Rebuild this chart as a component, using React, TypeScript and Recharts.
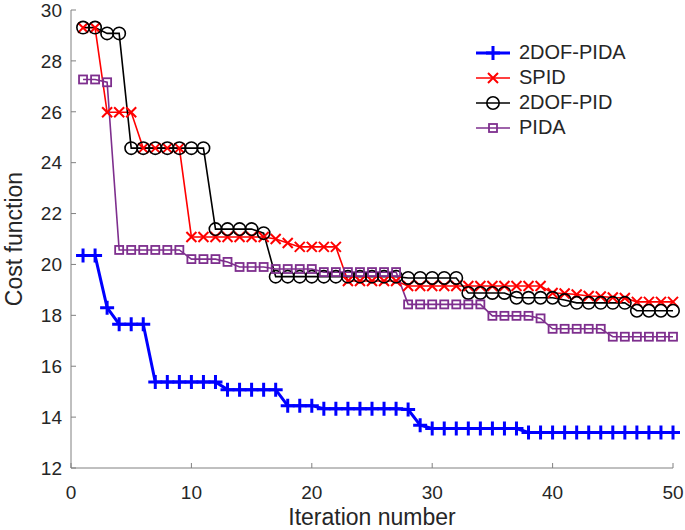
import { Label, Legend, Line, LineChart, XAxis, YAxis } from "recharts"

const iterations = [
  1, 2, 3, 4, 5, 6, 7, 8, 9, 10, 11, 12, 13, 14, 15, 16, 17, 18, 19, 20, 21, 22, 23, 24, 25,
  26, 27, 28, 29, 30, 31, 32, 33, 34, 35, 36, 37, 38, 39, 40, 41, 42, 43, 44, 45, 46, 47, 48, 49, 50,
]

const pida2dof = [
  20.35, 20.35, 18.3, 17.65, 17.65, 17.65, 15.38, 15.38, 15.38, 15.38, 15.38, 15.38, 15.08, 15.08, 15.08,
  15.08, 15.08, 14.45, 14.45, 14.45, 14.33, 14.33, 14.33, 14.33, 14.33, 14.33, 14.33, 14.3, 13.68, 13.55,
  13.55, 13.55, 13.55, 13.55, 13.55, 13.55, 13.55, 13.4, 13.4, 13.4, 13.4, 13.4, 13.4, 13.4, 13.4,
  13.4, 13.4, 13.4, 13.4, 13.4,
]

const spid = [
  29.3, 29.3, 25.98, 25.98, 25.98, 24.57, 24.57, 24.57, 24.57, 21.08, 21.08, 21.08, 21.08, 21.08, 21.08,
  21.08, 21.0, 20.84, 20.69, 20.69, 20.69, 20.69, 19.35, 19.35, 19.35, 19.35, 19.35, 19.15, 19.15, 19.15,
  19.15, 19.15, 19.15, 19.15, 19.15, 19.15, 19.15, 19.15, 19.15, 18.88, 18.86, 18.82, 18.76, 18.74, 18.7,
  18.68, 18.53, 18.53, 18.53, 18.53,
]

const pid2dof = [
  29.31, 29.31, 29.08, 29.08, 24.57, 24.57, 24.57, 24.57, 24.57, 24.57, 24.57, 21.39, 21.39, 21.39, 21.39,
  21.23, 19.52, 19.52, 19.52, 19.52, 19.52, 19.52, 19.52, 19.52, 19.52, 19.52, 19.52, 19.47, 19.47, 19.47,
  19.47, 19.47, 18.88, 18.88, 18.88, 18.88, 18.69, 18.69, 18.69, 18.69, 18.6, 18.49, 18.49, 18.49, 18.49,
  18.49, 18.18, 18.18, 18.18, 18.18,
]

const pida = [
  27.27, 27.27, 27.16, 20.57, 20.57, 20.57, 20.57, 20.57, 20.57, 20.21, 20.21, 20.21, 20.1, 19.9, 19.9,
  19.9, 19.82, 19.82, 19.82, 19.82, 19.7, 19.7, 19.7, 19.7, 19.7, 19.7, 19.7, 18.43, 18.43, 18.43,
  18.43, 18.43, 18.43, 18.43, 17.98, 17.98, 17.98, 17.98, 17.88, 17.47, 17.47, 17.47, 17.47, 17.47, 17.16,
  17.16, 17.16, 17.16, 17.16, 17.16,
]

const xTicks = [0, 10, 20, 30, 40, 50]
const yTicks = [12, 14, 16, 18, 20, 22, 24, 26, 28, 30]

const data = iterations.map((iter, i) => ({
  iter,
  pida2dof: pida2dof[i],
  spid: spid[i],
  pid2dof: pid2dof[i],
  pida: pida[i],
}))

const FONT = "'Liberation Sans', Arial, sans-serif"
const TEXT = "#262626"
const AXIS = "#808080"

type Marker = "plus" | "cross" | "circle" | "square"

function marker(kind: Marker, cx: number, cy: number, color: string, key?: number) {
  if (kind === "plus") {
    return (
      <path key={key} d={`M${cx - 7},${cy}H${cx + 7}M${cx},${cy - 7}V${cy + 7}`} stroke={color} strokeWidth={3} fill="none" />
    )
  }
  if (kind === "cross") {
    return (
      <path
        key={key}
        d={`M${cx - 5},${cy - 5}L${cx + 5},${cy + 5}M${cx - 5},${cy + 5}L${cx + 5},${cy - 5}`}
        stroke={color}
        strokeWidth={2}
        fill="none"
      />
    )
  }
  if (kind === "circle") {
    return <circle key={key} cx={cx} cy={cy} r={6.2} stroke={color} strokeWidth={1.6} fill="none" />
  }
  return <rect key={key} x={cx - 4} y={cy - 4} width={8} height={8} stroke={color} strokeWidth={1.8} fill="none" />
}

const series: { key: string; name: string; color: string; width: number; marker: Marker }[] = [
  { key: "pida2dof", name: "2DOF-PIDA", color: "#0000ff", width: 3, marker: "plus" },
  { key: "spid", name: "SPID", color: "#ff0000", width: 1.6, marker: "cross" },
  { key: "pid2dof", name: "2DOF-PID", color: "#000000", width: 1.6, marker: "circle" },
  { key: "pida", name: "PIDA", color: "#7e2f8e", width: 1.6, marker: "square" },
]

function LegendBox() {
  return (
    <div style={{ fontFamily: FONT, fontSize: 20, color: TEXT }}>
      {series.map((s) => (
        <div key={s.key} style={{ display: "flex", alignItems: "center", height: 25 }}>
          <svg width={34} height={20} style={{ marginRight: 9 }}>
            <line x1={0} y1={10} x2={34} y2={10} stroke={s.color} strokeWidth={s.width} />
            {marker(s.marker, 17, 10, s.color)}
          </svg>
          <span>{s.name}</span>
        </div>
      ))}
    </div>
  )
}

export default function App() {
  return (
    <div style={{ position: "absolute", left: 0, top: 0, background: "#fff" }}>
      <LineChart width={685} height={530} data={data} margin={{ top: 10, right: 12, bottom: 0, left: 0 }}>
        <XAxis
          xAxisId="bottom"
          dataKey="iter"
          type="number"
          domain={[0, 50]}
          ticks={xTicks}
          height={62}
          stroke={AXIS}
          tickSize={-5}
          tickMargin={23}
          tick={{ fill: TEXT, fontSize: 19, fontFamily: FONT }}
          interval={0}
        >
          <Label
            content={() => (
              <text x={372} y={525} textAnchor="middle" fontSize={23} fontFamily={FONT} fill={TEXT}>
                Iteration number
              </text>
            )}
          />
        </XAxis>
        <XAxis
          xAxisId="top"
          orientation="top"
          type="number"
          domain={[0, 50]}
          ticks={xTicks}
          height={0}
          stroke={AXIS}
          tickSize={-5}
          tick={false}
        />
        <YAxis
          yAxisId="left"
          type="number"
          domain={[12, 30]}
          ticks={yTicks}
          width={71}
          stroke={AXIS}
          tickSize={-5}
          tickMargin={14}
          tick={{ fill: TEXT, fontSize: 19, fontFamily: FONT }}
          interval={0}
        >
          <Label
            content={() => (
              <text
                x={22}
                y={239}
                transform="rotate(-90, 22, 239)"
                textAnchor="middle"
                fontSize={23}
                fontFamily={FONT}
                fill={TEXT}
              >
                Cost function
              </text>
            )}
          />
        </YAxis>
        <YAxis
          yAxisId="right"
          orientation="right"
          type="number"
          domain={[12, 30]}
          ticks={yTicks}
          width={0}
          stroke={AXIS}
          tickSize={-5}
          tick={false}
        />
        {series.map((s) => (
          <Line
            key={s.key}
            xAxisId="bottom"
            yAxisId="left"
            type="linear"
            dataKey={s.key}
            name={s.name}
            stroke={s.color}
            strokeWidth={s.width}
            isAnimationActive={false}
            activeDot={false}
            dot={(p: any) => marker(s.marker, p.cx, p.cy, s.color, p.index)}
          />
        ))}
        <Legend
          layout="horizontal"
          verticalAlign="middle"
          align="center"
          content={() => <LegendBox />}
          wrapperStyle={{ left: 476, top: 40, width: 200, height: 100 }}
        />
      </LineChart>
    </div>
  )
}
